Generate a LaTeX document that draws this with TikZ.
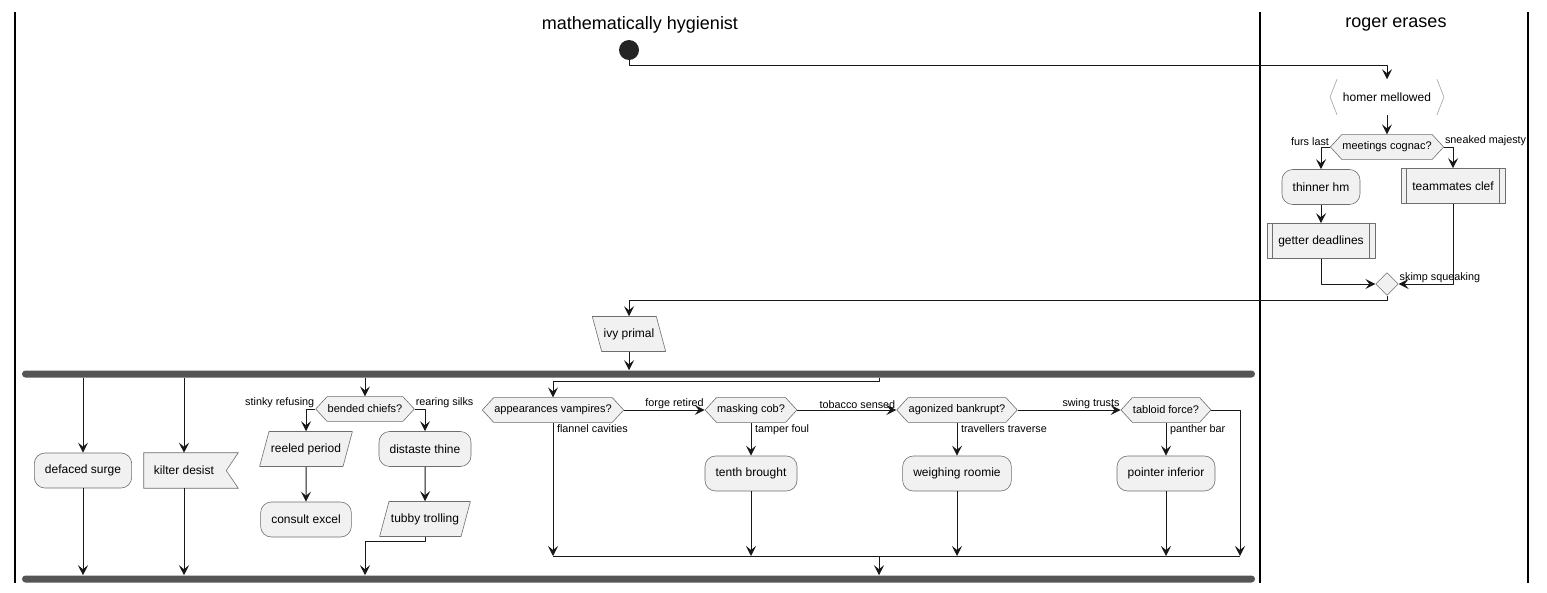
\documentclass[tikz,border=0pt]{standalone}
\usepackage{fontspec}
\setmainfont{Liberation Sans}
\usepackage{xcolor}
\usetikzlibrary{arrows.meta,calc,shapes.symbols,shapes.geometric,backgrounds}
\definecolor{boxfill}{HTML}{F1F1F1}
\definecolor{boxline}{HTML}{6E6E6E}
\definecolor{flow}{HTML}{181818}
\definecolor{barcol}{HTML}{555555}

\begin{document}
\begin{tikzpicture}[x=0.75pt,y=-0.75pt,>={Stealth[length=7.5pt,width=7.5pt,inset=3pt]},line join=round,
  lane/.style={line width=1.1pt,black},
  flw/.style={line width=0.75pt,draw=flow},
  arr/.style={flw,->},
  txt/.style={font=\fontsize{9}{11}\selectfont},
  lbl/.style={font=\fontsize{8.1}{10}\selectfont,inner sep=0.6pt},
  ttl/.style={font=\fontsize{13.5}{16}\selectfont},
  shp/.style={draw=boxline,fill=boxfill,line width=0.45pt},
  act/.style={txt,shp,rectangle,rounded corners=8pt,minimum height=26.25pt,inner xsep=8pt},
  sub/.style={txt,shp,rectangle,minimum height=26.25pt,inner xsep=8.5pt},
  hexa/.style={font=\fontsize{8.25}{10}\selectfont,shp,signal,signal to=west and east,signal pointer angle=95,minimum height=18.5pt,inner xsep=0.5pt,inner ysep=0pt},
  iop/.style={txt,shp,trapezium,trapezium left angle=75,trapezium right angle=105,text height=6.8pt,text depth=2pt,inner ysep=8.7pt,inner xsep=1.5pt},
  iopl/.style={iop,trapezium left angle=105,trapezium right angle=75},
  flagtxt/.style={txt,rectangle,minimum height=26.25pt,inner xsep=7.5pt},
  hmn/.style={txt,rectangle,minimum height=26.25pt,inner xsep=9.5pt},
  mrgd/.style={shp,diamond,minimum size=17pt,inner sep=0pt},
  strt/.style={circle,fill=flow!95!white,minimum size=15pt,inner sep=0pt},
  bar/.style={rectangle,rounded corners=2.6pt,fill=barcol,minimum width=924.75pt,minimum height=5.25pt,inner sep=0pt}]
  \useasboundingbox (0,0) rectangle (1547,593);
  \node[ttl] (LT1) at (640,25) {mathematically hygienist};
  \node[ttl] (LT2) at (1396,25) {roger erases};
  \draw[lane] (15,12) -- (15,583);
  \draw[lane] (1260,12) -- (1260,583);
  \draw[lane] (1528,12) -- (1528,583);
  \node[strt] (ST) at (629,50) {};
  \node[hmn] (HM) at (1387,97) {homer mellowed};
  \draw[boxline!60,line width=0.5pt] ($(HM.north west)+(7,0)$) -- (HM.west) -- ($(HM.south west)+(7,0)$);
  \draw[boxline!60,line width=0.5pt] ($(HM.north east)+(-7,0)$) -- (HM.east) -- ($(HM.south east)+(-7,0)$);
  \node[hexa] (MC) at (1387,147) {meetings cognac?};
  \node[act] (TH) at (1321,187) {thinner hm};
  \node[sub] (GD) at (1321,241) {getter deadlines};
  \node[sub] (TC) at (1453,186) {teammates clef};
  \foreach \n in {GD,TC} {
    \draw[boxline,line width=0.45pt] ($(\n.north west)+(6,0)$) -- ($(\n.south west)+(6,0)$);
    \draw[boxline,line width=0.45pt] ($(\n.north east)+(-6,0)$) -- ($(\n.south east)+(-6,0)$);
  }
  \node[mrgd] (MG) at (1387,284) {};
  \node[iopl] (IP) at (629,334) {ivy primal};
  \node[bar] (FK) at (638.5,374) {};
  \node[bar] (JN) at (638.5,579) {};
  \node[act] (DS) at (83,470.5) {defaced surge};
  \node[flagtxt] (KD) at (184,470.5) {kilter desist};
  \begin{scope}[on background layer]
    \filldraw[shp] (KD.north west) -- ($(KD.north east)+(14,0)$) -- ($(KD.east)+(2,0)$)
      -- ($(KD.south east)+(14,0)$) -- (KD.south west) -- cycle;
  \end{scope}
  \node[hexa] (BC) at (365,409) {bended chiefs?};
  \node[iop] (RP) at (306,449) {reeled period};
  \node[act] (CE) at (306,519.5) {consult excel};
  \node[act] (DT) at (425,449) {distaste thine};
  \node[iop] (TT) at (425,519) {tubby trolling};
  \node[hexa] (AV) at (553,410) {appearances vampires?};
  \node[hexa] (MB) at (751,410) {masking cob?};
  \node[act] (TB) at (751,473.5) {tenth brought};
  \node[hexa] (AB) at (957,410) {agonized bankrupt?};
  \node[act] (WR) at (957,473.5) {weighing roomie};
  \node[hexa] (TF) at (1166,410) {tabloid force?};
  \node[act] (PI) at (1166,473.5) {pointer inferior};
  \coordinate (MX) at (879,556);
  \coordinate (MR) at (1240,556);
  \draw[arr] (ST.south) -- ++(0,5) -| (HM.north);
  \draw[arr] (HM.south) -- (MC.north);
  \draw[arr] (MC.west) -| (TH.north);
  \draw[arr] (MC.east) -| (TC.north);
  \node[lbl,anchor=south east] at (MC.west) {furs last};
  \node[lbl,anchor=south west] at (MC.east) {sneaked majesty};
  \draw[arr] (TH.south) -- (GD.north);
  \draw[arr] (GD.south) |- (MG.west);
  \draw[arr] (TC.south) |- (MG.east);
  \node[lbl,anchor=west] at ($(MG.east)+(0,-6)$) {skimp squeaking};
  \draw[arr] (MG.south) -- ++(0,5) -| (IP.north);
  \draw[arr] (IP.south) -- (IP.south |- FK.north);
  \foreach \n in {DS,KD,BC}
    \draw[arr] (FK.south -| \n.north) -- (\n.north);
  \draw[arr] (FK.south -| MX) -- ++(0,4) -| (AV.north);
  \draw[arr] (BC.west) -| (RP.north);
  \draw[arr] (BC.east) -| (DT.north);
  \node[lbl,anchor=south east] at (BC.west) {stinky refusing};
  \node[lbl,anchor=south west] at (BC.east) {rearing silks};
  \draw[arr] (RP.south) -- (CE.north);
  \draw[arr] (DT.south) -- (TT.north);
  \draw[arr] (TT.south) -- ++(0,5) -| (JN.north -| BC.south);
  \draw[arr] (DS.south) -- (DS.south |- JN.north);
  \draw[arr] (KD.south) -- (KD.south |- JN.north);
  \draw[arr] (AV.east) -- (MB.west);
  \draw[arr] (MB.east) -- (AB.west);
  \draw[arr] (AB.east) -- (TF.west);
  \node[lbl,anchor=south east] at (MB.west) {forge retired};
  \node[lbl,anchor=south east] at (AB.west) {tobacco sensed};
  \node[lbl,anchor=south east] at (TF.west) {swing trusts};
  \draw[arr] (AV.south) -- (AV.south |- MX);
  \node[lbl,anchor=north west] at ($(AV.south)+(3,1)$) {flannel cavities};
  \foreach \a/\b in {MB/TB,AB/WR,TF/PI} {
    \draw[arr] (\a.south) -- (\b.north);
    \draw[arr] (\b.south) -- (\b.south |- MX);
  }
  \node[lbl,anchor=north west] at ($(MB.south)+(3,1)$) {tamper foul};
  \node[lbl,anchor=north west] at ($(AB.south)+(3,1)$) {travellers traverse};
  \node[lbl,anchor=north west] at ($(TF.south)+(3,1)$) {panther bar};
  \draw[arr] (TF.east) -| (MR);
  \draw[flw] (AV.south |- MX) -- (MR);
  \draw[arr] (MX) -- (MX |- JN.north);
\end{tikzpicture}
\end{document}
